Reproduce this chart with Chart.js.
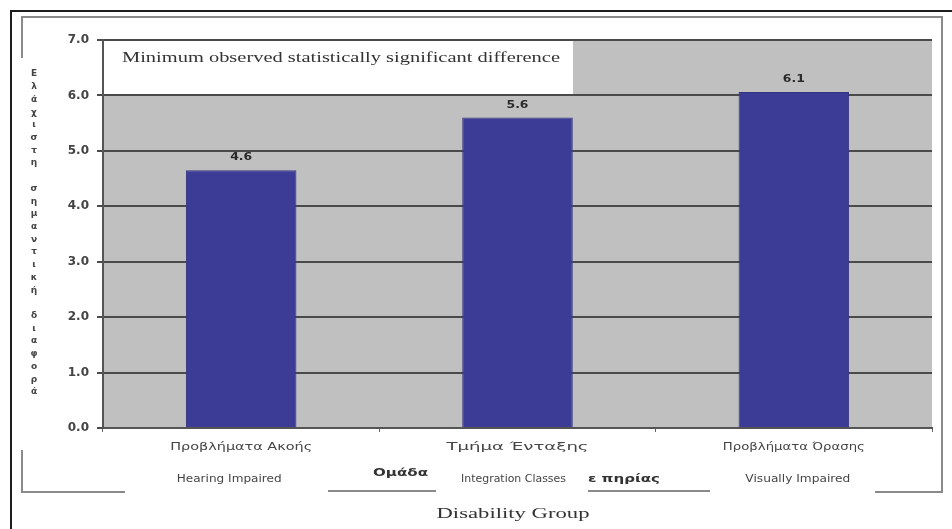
<!DOCTYPE html>
<html>
<head>
<meta charset="utf-8">
<script src="https://cdn.jsdelivr.net/npm/chart.js@4.4.1/dist/chart.umd.min.js"></script>
<style>
    html, body { margin: 0; padding: 0; background: #fff; }
    #wrap { width: 952px; height: 529px; }
</style>
</head>
<body>
<div id="wrap"><canvas id="grafico" width="952" height="529"></canvas></div>
<script>
// Datos del gráfico
const categoriasGR = ['Προβλήματα Ακοής', 'Τμήμα Ένταξης', 'Προβλήματα Όρασης'];
const categoriasEN = ['Hearing Impaired', 'Integration Classes', 'Visually Impaired'];
const valores = [4.65, 5.6, 6.06];
const etiquetasValor = ['4.6', '5.6', '6.1'];
const tituloCaja = 'Minimum observed statistically significant difference';
const tituloEjeY = 'Ελάχιστη σημαντική διαφορά';
const tituloEjeX = 'Disability Group';

// Texto estirado horizontalmente para imitar la imagen original
function textoAncho(ctx, texto, x, y, ancho, align) {
    const w = ctx.measureText(texto).width;
    const k = ancho / w;
    ctx.save();
    let x0 = x;
    if (align === 'center') x0 = x - ancho / 2;
    if (align === 'right') x0 = x - ancho;
    ctx.translate(x0, y);
    ctx.scale(k, 1);
    ctx.textAlign = 'left';
    ctx.fillText(texto, 0, 0);
    ctx.restore();
}

const fondoPlugin = {
    id: 'fondo',
    beforeDraw(chart) {
        const ctx = chart.ctx;
        const a = chart.chartArea;
        const y = chart.scales.y;
        ctx.save();
        ctx.fillStyle = '#c0c0c0';
        ctx.fillRect(a.left, a.top, a.right - a.left, a.bottom - a.top);
        // caja blanca del título
        ctx.fillStyle = '#ffffff';
        ctx.fillRect(a.left, a.top, 573 - a.left, y.getPixelForValue(6) - a.top);
        ctx.restore();
    },
    afterDraw(chart) {
        const ctx = chart.ctx;
        const x = chart.scales.x;
        ctx.save();

        // marco exterior negro
        ctx.strokeStyle = '#1e1e1e';
        ctx.lineWidth = 2;
        ctx.beginPath();
        ctx.moveTo(11, 529);
        ctx.lineTo(11, 11);
        ctx.lineTo(952, 11);
        ctx.stroke();

        // marco gris
        ctx.strokeStyle = '#8a8a8a';
        ctx.lineWidth = 2;
        ctx.beginPath();
        ctx.moveTo(22, 58); ctx.lineTo(22, 17); ctx.lineTo(942, 17);
        ctx.lineTo(942, 492); ctx.lineTo(875, 492);
        ctx.moveTo(22, 450); ctx.lineTo(22, 492); ctx.lineTo(125, 492);
        ctx.moveTo(328, 491); ctx.lineTo(436, 491);
        ctx.moveTo(588, 491); ctx.lineTo(710, 491);
        ctx.stroke();

        // título de la caja
        ctx.fillStyle = '#333';
        ctx.font = '15px "Liberation Serif", serif';
        ctx.textBaseline = 'middle';
        textoAncho(ctx, tituloCaja, 122, 58, 438, 'left');

        // etiquetas de valor
        ctx.fillStyle = '#2a2a2a';
        ctx.font = 'bold 11px "DejaVu Sans", sans-serif';
        ctx.textBaseline = 'alphabetic';
        chart.getDatasetMeta(0).data.forEach((bar, i) => {
            textoAncho(ctx, etiquetasValor[i], bar.x, bar.y - 10, 22, 'center');
        });

        // etiquetas de categoría
        ctx.fillStyle = '#454545';
        ctx.textBaseline = 'middle';
        categoriasGR.forEach((c, i) => {
            const cx = x.getPixelForValue(i);
            ctx.font = '10px "DejaVu Sans", sans-serif';
            textoAncho(ctx, c, cx, 447, 142, 'center');
            textoAncho(ctx, categoriasEN[i], cx - 12 + 8 * i, 479, 105, 'center');
        });

        // restos del título griego del eje
        ctx.fillStyle = '#333';
        ctx.font = 'bold 10px "DejaVu Sans", sans-serif';
        textoAncho(ctx, 'Ομάδα', 428, 473, 55, 'right');
        textoAncho(ctx, 'ε πηρίας', 588, 479, 72, 'left');

        // título eje X
        ctx.fillStyle = '#333';
        ctx.font = '15px "Liberation Serif", serif';
        textoAncho(ctx, tituloEjeX, 513, 514, 153, 'center');

        // título eje Y (letras apiladas)
        ctx.fillStyle = '#444';
        ctx.font = 'bold 9px "DejaVu Sans", sans-serif';
        ctx.textAlign = 'center';
        const letras = tituloEjeY.split('');
        const paso = (392 - 74) / (letras.length - 1);
        letras.forEach((l, i) => {
            ctx.fillText(l, 34, 74 + i * paso);
        });
        ctx.restore();
    }
};

const ctx = document.getElementById('grafico').getContext('2d');
new Chart(ctx, {
    type: 'bar',
    data: {
        labels: categoriasEN,
        datasets: [{
            data: valores,
            backgroundColor: '#3c3c96',
            borderColor: '#34347f',
            borderWidth: 1,
            categoryPercentage: 0.4,
            barPercentage: 1
        }]
    },
    options: {
        responsive: false,
        animation: false,
        layout: { padding: { top: 40, right: 20, left: 0, bottom: 0 } },
        plugins: {
            legend: { display: false },
            tooltip: { enabled: false }
        },
        scales: {
            y: {
                min: 0,
                max: 7,
                afterFit: (s) => { s.width = 103; },
                ticks: {
                    stepSize: 1,
                    padding: 8,
                    color: '#444',
                    font: { size: 12, weight: 'bold', family: '"DejaVu Sans", sans-serif' },
                    callback: (v) => v.toFixed(1)
                },
                grid: {
                    color: '#4a4a4a',
                    lineWidth: 2,
                    tickLength: 6
                },
                border: { color: '#555', width: 2 }
            },
            x: {
                afterFit: (s) => { s.height = 101; },
                ticks: { display: false },
                grid: {
                    drawOnChartArea: false,
                    color: '#666',
                    tickLength: 4,
                    offset: true
                },
                border: { color: '#555', width: 2 }
            }
        }
    },
    plugins: [fondoPlugin]
});
</script>
</body>
</html>
